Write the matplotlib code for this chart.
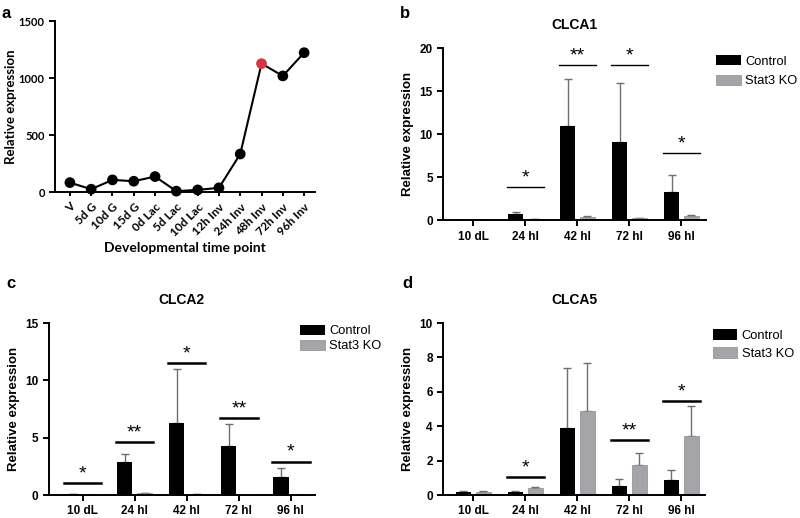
import numpy as np
import matplotlib
matplotlib.use('Agg')
import matplotlib.pyplot as plt

plt.rcParams['font.family'] = ['Liberation Sans', 'DejaVu Sans']

# panel a: time course
time_points = ['V', '5d G', '10d G', '15d G', '0d Lac', '5d Lac', '10d Lac',
               '12h Inv', '24h Inv', '48h Inv', '72h Inv', '96h Inv']
time_expr = [84, 26, 108, 96, 137, 9, 20, 38, 335, 1128, 1020, 1224]
highlight = '48h Inv'

# panels b-d: control vs Stat3 KO
groups = ['10 dL', '24 hl', '42 hl', '72 hl', '96 hl']

clca1_ctrl = [0.05, 0.7, 10.9, 9.05, 3.3]
clca1_ctrl_err = [0.02, 0.2, 5.5, 6.95, 2.0]
clca1_ko = [0.02, 0.08, 0.35, 0.2, 0.5]
clca1_ko_err = [0.01, 0.03, 0.08, 0.05, 0.15]
clca1_sig = ['', '*', '**', '*', '*']
clca1_sig_y = [0, 3.8, 18.0, 18.0, 7.8]

clca2_ctrl = [0.05, 2.85, 6.3, 4.3, 1.55]
clca2_ctrl_err = [0.02, 0.7, 4.7, 1.9, 0.8]
clca2_ko = [0.02, 0.15, 0.05, 0.02, 0.02]
clca2_ko_err = [0.01, 0.04, 0.02, 0.01, 0.01]
clca2_sig = ['*', '**', '*', '**', '*']
clca2_sig_y = [1.05, 4.6, 11.5, 6.7, 2.9]

clca5_ctrl = [0.2, 0.2, 3.9, 0.55, 0.85]
clca5_ctrl_err = [0.02, 0.02, 3.5, 0.4, 0.6]
clca5_ko = [0.18, 0.42, 4.9, 1.75, 3.45]
clca5_ko_err = [0.03, 0.06, 2.75, 0.7, 1.7]
clca5_sig = ['', '*', '', '**', '*']
clca5_sig_y = [0, 1.03, 0, 3.17, 5.44]

CTRL_COLOR = '#000000'
KO_COLOR = '#a4a4a9'
ERR_COLOR = '#6e6e6e'
A_FONT = ['Lato', 'DejaVu Sans']

fig = plt.figure(figsize=(8, 5.18), dpi=100)


def style_axes(ax):
    for side in ['top', 'right']:
        ax.spines[side].set_visible(False)
    for side in ['left', 'bottom']:
        ax.spines[side].set_linewidth(1.4)
    ax.tick_params(width=1.4, length=4)


def bar_panel(rect, title, ctrl, ctrl_err, ko, ko_err, sig, sig_y, ymax, ystep,
              xlim, legend_pos, legend_gap, sig_lw):
    ax = fig.add_axes(rect)
    x = np.arange(len(groups))
    w = 0.29
    off = 0.19
    ax.bar(x - off, ctrl, w, color=CTRL_COLOR, label='Control', zorder=2)
    ax.bar(x + off, ko, w, color=KO_COLOR, edgecolor='#8c8c90', linewidth=0.5,
           label='Stat3 KO', zorder=2)
    ax.errorbar(x - off, ctrl, yerr=[np.zeros(len(x)), ctrl_err], fmt='none',
                ecolor=ERR_COLOR, elinewidth=1.0, capsize=3, capthick=1.0, zorder=1)
    ax.errorbar(x + off, ko, yerr=[np.zeros(len(x)), ko_err], fmt='none',
                ecolor=ERR_COLOR, elinewidth=1.0, capsize=3, capthick=1.0, zorder=1)
    for xi, s, sy in zip(x, sig, sig_y):
        if not s:
            continue
        ax.plot([xi - 0.36, xi + 0.36], [sy, sy], color='black', lw=sig_lw,
                clip_on=False)
        ax.text(xi, sy + ymax * 0.005, s, ha='center', va='bottom', fontsize=14,
                clip_on=False)
    ax.set_xlim(*xlim)
    ax.set_ylim(0, ymax)
    ax.set_yticks(np.arange(0, ymax + 0.1, ystep))
    ax.set_xticks(x)
    ax.set_xticklabels(groups)
    for lab in ax.get_xticklabels() + ax.get_yticklabels():
        lab.set_fontweight('bold')
        lab.set_fontsize(8.5)
    ax.set_ylabel('Relative expression', fontsize=9.5, fontweight='bold')
    ax.set_title(title, fontsize=10, fontweight='bold', pad=14)
    style_axes(ax)
    ax.legend(loc='upper left', bbox_to_anchor=legend_pos,
              bbox_transform=fig.transFigure, frameon=False, fontsize=9.3,
              handlelength=1.9, handleheight=0.85, handletextpad=0.35,
              labelspacing=legend_gap, borderaxespad=0, borderpad=0)
    return ax


# panel a
ax_a = fig.add_axes([0.069, 0.629, 0.325, 0.330])
xa = np.arange(len(time_points))
ax_a.plot(xa, time_expr, color='black', lw=1.5, zorder=2)
colors = ['#d9353d' if t == highlight else 'black' for t in time_points]
ax_a.scatter(xa, time_expr, s=45, c=colors, zorder=3, clip_on=False)
ax_a.set_xlim(-0.69, 11.52)
ax_a.set_ylim(0, 1500)
ax_a.set_yticks([0, 500, 1000, 1500])
ax_a.set_xticks(xa)
ax_a.set_xticklabels(time_points, rotation=45, ha='right',
                     rotation_mode='anchor')
for lab in ax_a.get_yticklabels():
    lab.set_fontweight('bold')
    lab.set_fontsize(8)
    lab.set_family(A_FONT)
for lab in ax_a.get_xticklabels():
    lab.set_fontweight('bold')
    lab.set_fontsize(8.5)
    lab.set_family(A_FONT)
ax_a.set_xlabel('Developmental time point', fontsize=10, fontweight='bold',
                family=A_FONT, labelpad=3)
ax_a.set_ylabel('Relative expression', fontsize=9.5, fontweight='bold',
                family=A_FONT)
ax_a.yaxis.set_label_coords(-0.148, 0.5)
style_axes(ax_a)
ax_a.tick_params(axis='x', length=3)

bar_panel([0.554, 0.575, 0.329, 0.332], 'CLCA1', clca1_ctrl, clca1_ctrl_err,
          clca1_ko, clca1_ko_err, clca1_sig, clca1_sig_y, 20, 5,
          (-0.58, 4.48), (0.895, 0.894), 0.55, 1.0)
bar_panel([0.061, 0.0444, 0.3325, 0.332], 'CLCA2', clca2_ctrl, clca2_ctrl_err,
          clca2_ko, clca2_ko_err, clca2_sig, clca2_sig_y, 15, 5,
          (-0.65, 4.46), (0.375, 0.373), 0.17, 1.8)
bar_panel([0.554, 0.0444, 0.3275, 0.332], 'CLCA5', clca5_ctrl, clca5_ctrl_err,
          clca5_ko, clca5_ko_err, clca5_sig, clca5_sig_y, 10, 2,
          (-0.58, 4.46), (0.891, 0.364), 0.4, 1.8)

# panel letters
for letter, px, py in [('a', 2, 14), ('b', 400, 14), ('c', 6, 283), ('d', 402, 283)]:
    fig.text(px / 800, 1 - py / 518, letter, fontsize=12, fontweight='bold',
             ha='left', va='center')

fig.savefig('out.png', dpi=100)
